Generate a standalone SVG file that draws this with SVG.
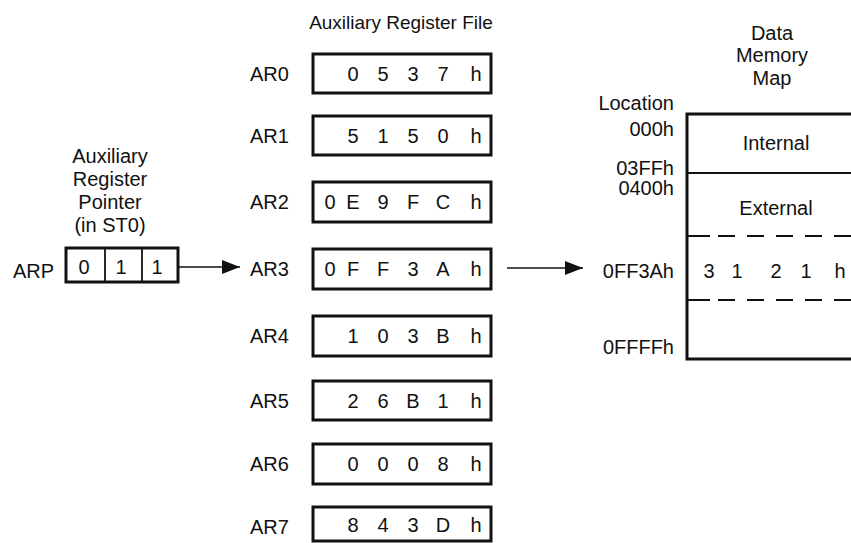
<svg xmlns="http://www.w3.org/2000/svg" width="851" height="543" viewBox="0 0 851 543">
  <style>
    text { font-family: "Liberation Sans", Arial, sans-serif; font-size: 20px; fill: #111; }
    .mid { text-anchor: middle; }
    .end { text-anchor: end; }
    .reg { fill: #fff; stroke: #111; stroke-width: 3; }
    .thin { stroke: #111; stroke-width: 1.8; fill: none; }
    .dash { stroke: #111; stroke-width: 1.8; fill: none; stroke-dasharray: 23 8 17 12 17 12 17 12 17 12 17 12; }
    .wire { stroke: #111; stroke-width: 1.5; fill: none; }
  </style>
  <defs>
    <marker id="arrow" markerWidth="18" markerHeight="14" refX="18" refY="7" orient="auto" markerUnits="userSpaceOnUse">
      <path d="M0,0 L18,7 L0,14 Z" fill="#111"/>
    </marker>
  </defs>
  <rect width="851" height="543" fill="#fff"/>

  <!-- Auxiliary register pointer -->
  <g id="arp">
    <text class="mid" x="110" y="163">Auxiliary</text>
    <text class="mid" x="110" y="186">Register</text>
    <text class="mid" x="110" y="209">Pointer</text>
    <text class="mid" x="110" y="232">(in ST0)</text>
    <text x="13" y="278">ARP</text>
    <rect class="reg" x="66" y="248" width="112" height="34"/>
    <line class="thin" x1="105" y1="248" x2="105" y2="282"/>
    <line class="thin" x1="142" y1="248" x2="142" y2="282"/>
    <text class="mid" x="84" y="274">0</text>
    <text class="mid" x="121" y="274">1</text>
    <text class="mid" x="157" y="274">1</text>
  </g>

  <!-- Auxiliary register file -->
  <text class="mid" x="401" y="29" style="font-size:19px">Auxiliary Register File</text>

  <g id="ar0">
    <text x="250" y="81">AR0</text>
    <rect class="reg" x="313" y="54" width="178" height="39"/>
    <text class="mid" x="353" y="81">0</text><text class="mid" x="383" y="81">5</text><text class="mid" x="413" y="81">3</text><text class="mid" x="443" y="81">7</text><text class="mid" x="476" y="81">h</text>
  </g>
  <g id="ar1">
    <text x="250" y="143">AR1</text>
    <rect class="reg" x="313" y="116" width="178" height="39"/>
    <text class="mid" x="353" y="143">5</text><text class="mid" x="383" y="143">1</text><text class="mid" x="413" y="143">5</text><text class="mid" x="443" y="143">0</text><text class="mid" x="476" y="143">h</text>
  </g>
  <g id="ar2">
    <text x="250" y="209">AR2</text>
    <rect class="reg" x="313" y="182" width="178" height="40"/>
    <text class="mid" x="330" y="209">0</text><text class="mid" x="353" y="209">E</text><text class="mid" x="383" y="209">9</text><text class="mid" x="413" y="209">F</text><text class="mid" x="443" y="209">C</text><text class="mid" x="476" y="209">h</text>
  </g>
  <g id="ar3">
    <text x="250" y="276">AR3</text>
    <rect class="reg" x="313" y="249" width="178" height="40"/>
    <text class="mid" x="330" y="276">0</text><text class="mid" x="353" y="276">F</text><text class="mid" x="383" y="276">F</text><text class="mid" x="413" y="276">3</text><text class="mid" x="443" y="276">A</text><text class="mid" x="476" y="276">h</text>
  </g>
  <g id="ar4">
    <text x="250" y="343">AR4</text>
    <rect class="reg" x="313" y="316" width="178" height="40"/>
    <text class="mid" x="353" y="343">1</text><text class="mid" x="383" y="343">0</text><text class="mid" x="413" y="343">3</text><text class="mid" x="443" y="343">B</text><text class="mid" x="476" y="343">h</text>
  </g>
  <g id="ar5">
    <text x="250" y="408">AR5</text>
    <rect class="reg" x="313" y="381" width="178" height="39"/>
    <text class="mid" x="353" y="408">2</text><text class="mid" x="383" y="408">6</text><text class="mid" x="413" y="408">B</text><text class="mid" x="443" y="408">1</text><text class="mid" x="476" y="408">h</text>
  </g>
  <g id="ar6">
    <text x="250" y="471">AR6</text>
    <rect class="reg" x="313" y="444" width="178" height="40"/>
    <text class="mid" x="353" y="471">0</text><text class="mid" x="383" y="471">0</text><text class="mid" x="413" y="471">0</text><text class="mid" x="443" y="471">8</text><text class="mid" x="476" y="471">h</text>
  </g>
  <g id="ar7">
    <text x="250" y="534">AR7</text>
    <rect class="reg" x="313" y="507" width="178" height="34"/>
    <text class="mid" x="353" y="532">8</text><text class="mid" x="383" y="532">4</text><text class="mid" x="413" y="532">3</text><text class="mid" x="443" y="532">D</text><text class="mid" x="476" y="532">h</text>
  </g>

  <!-- Data memory map -->
  <g id="memory-map">
    <text class="mid" x="772" y="40">Data</text>
    <text class="mid" x="772" y="62">Memory</text>
    <text class="mid" x="772" y="85">Map</text>
    <text class="end" x="674" y="110">Location</text>
    <text class="end" x="674" y="136">000h</text>
    <text class="end" x="674" y="175">03FFh</text>
    <text class="end" x="674" y="195">0400h</text>
    <text class="end" x="674" y="278">0FF3Ah</text>
    <text class="end" x="674" y="354">0FFFFh</text>
    <rect class="reg" x="687" y="114" width="180" height="245"/>
    <line class="thin" x1="687" y1="173" x2="851" y2="173"/>
    <line class="dash" x1="687" y1="236" x2="851" y2="236"/>
    <line class="dash" x1="687" y1="300" x2="851" y2="300"/>
    <text class="mid" x="776" y="150">Internal</text>
    <text class="mid" x="776" y="215">External</text>
    <text class="mid" x="709" y="278">3</text><text class="mid" x="737" y="278">1</text><text class="mid" x="776" y="278">2</text><text class="mid" x="806" y="278">1</text><text class="mid" x="840" y="278">h</text>
  </g>

  <!-- Connectors -->
  <g id="connectors">
    <line class="wire" x1="178" y1="267" x2="240" y2="267" marker-end="url(#arrow)"/>
    <line class="wire" x1="507" y1="268" x2="583" y2="268" marker-end="url(#arrow)"/>
  </g>
</svg>
